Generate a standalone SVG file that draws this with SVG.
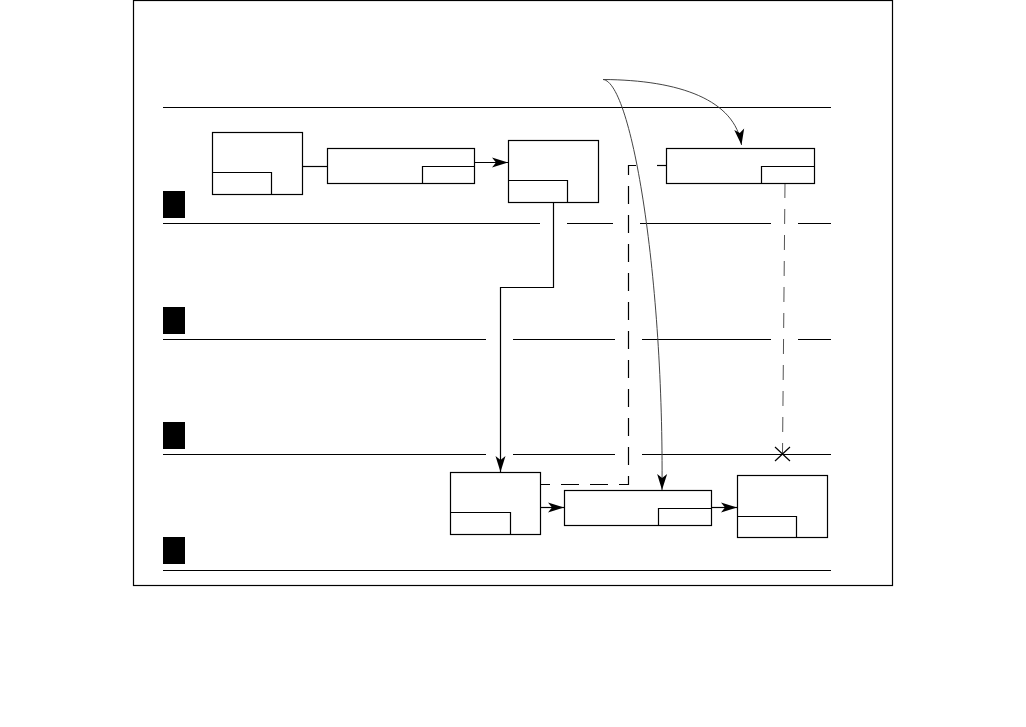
<svg xmlns="http://www.w3.org/2000/svg" width="1026" height="727" viewBox="0 0 1026 727">
<defs>
<marker id="ah" markerUnits="userSpaceOnUse" markerWidth="18" markerHeight="12" refX="16" refY="5" orient="auto" overflow="visible">
<path d="M0,0 L16,5 L0,10 L4,5 z" fill="#000"/>
</marker>
<style>
.ln{stroke:#000;stroke-width:1.2;fill:none}
.bx{stroke:#000;stroke-width:1.2;fill:#fff}
.sq{fill:#000}
.cv{stroke:#444;stroke-width:1;fill:none}
.ds{stroke:#000;stroke-width:1.2;fill:none;stroke-dasharray:18,11;stroke-dashoffset:9}
.dd{stroke:#555;stroke-width:1;fill:none;stroke-dasharray:15,11}
</style>
</defs>
<rect x="0" y="0" width="1026" height="727" fill="#fff"/>
<rect id="frame" x="133.5" y="0.5" width="759" height="585" class="ln"/>
<g id="lanes">
<line x1="163" y1="107.5" x2="831" y2="107.5" class="ln"/>
<path d="M163,223.5H540M567,223.5H613M640,223.5H771M798,223.5H831" class="ln"/>
<path d="M163,339.5H486M513,339.5H615M642,339.5H771M798,339.5H831" class="ln"/>
<path d="M163,454.5H486M513,454.5H615M642,454.5H831" class="ln"/>
<line x1="163" y1="570.5" x2="831" y2="570.5" class="ln"/>
<rect x="163" y="191" width="22" height="27" class="sq"/>
<rect x="163" y="307" width="22" height="27" class="sq"/>
<rect x="163" y="422" width="22" height="27" class="sq"/>
<rect x="163" y="537" width="22" height="27" class="sq"/>
</g>
<g id="connectors">
<line x1="302" y1="166.5" x2="327" y2="166.5" class="ln"/>
<line x1="474" y1="162.5" x2="508" y2="162.5" class="ln" marker-end="url(#ah)"/>
<path d="M553.5,202 V287.5 H500.5 V472" class="ln" marker-end="url(#ah)"/>
<path d="M541,484.5 H628.5 V165.5 H636" class="ds"/>
<line x1="657" y1="165.5" x2="666" y2="165.5" class="ln"/>
<path d="M785,183 L782.5,454" class="dd"/>
<path d="M775,447 L790,461 M790,447 L775,461" class="ln"/>
<path d="M603,79.5 C680,80 735,100 741.5,145" class="cv" marker-end="url(#ah)"/>
<path d="M603,79.5 C632,82 664,280 662,490" class="cv" marker-end="url(#ah)"/>
<line x1="541" y1="507.5" x2="564" y2="507.5" class="ln" marker-end="url(#ah)"/>
<line x1="711" y1="507.5" x2="737" y2="507.5" class="ln" marker-end="url(#ah)"/>
</g>
<g id="node1"><rect x="212.5" y="132.5" width="90" height="62" class="bx"/><path d="M212.5,172.5H271.5V194.5" class="ln"/></g>
<g id="node2"><rect x="327.5" y="148.5" width="147" height="35" class="bx"/><path d="M474.5,166.5H422.5V183.5" class="ln"/></g>
<g id="node3"><rect x="508.5" y="140.5" width="90" height="62" class="bx"/><path d="M508.5,180.5H567.5V202.5" class="ln"/></g>
<g id="node4"><rect x="666.5" y="148.5" width="148" height="35" class="bx"/><path d="M814.5,166.5H761.5V183.5" class="ln"/></g>
<g id="node5"><rect x="450.5" y="472.5" width="90" height="62" class="bx"/><path d="M450.5,512.5H510.5V534.5" class="ln"/></g>
<g id="node6"><rect x="564.5" y="490.5" width="147" height="35" class="bx"/><path d="M711.5,508.5H658.5V525.5" class="ln"/></g>
<g id="node7"><rect x="737.5" y="475.5" width="90" height="62" class="bx"/><path d="M737.5,516.5H796.5V537.5" class="ln"/></g>
</svg>
